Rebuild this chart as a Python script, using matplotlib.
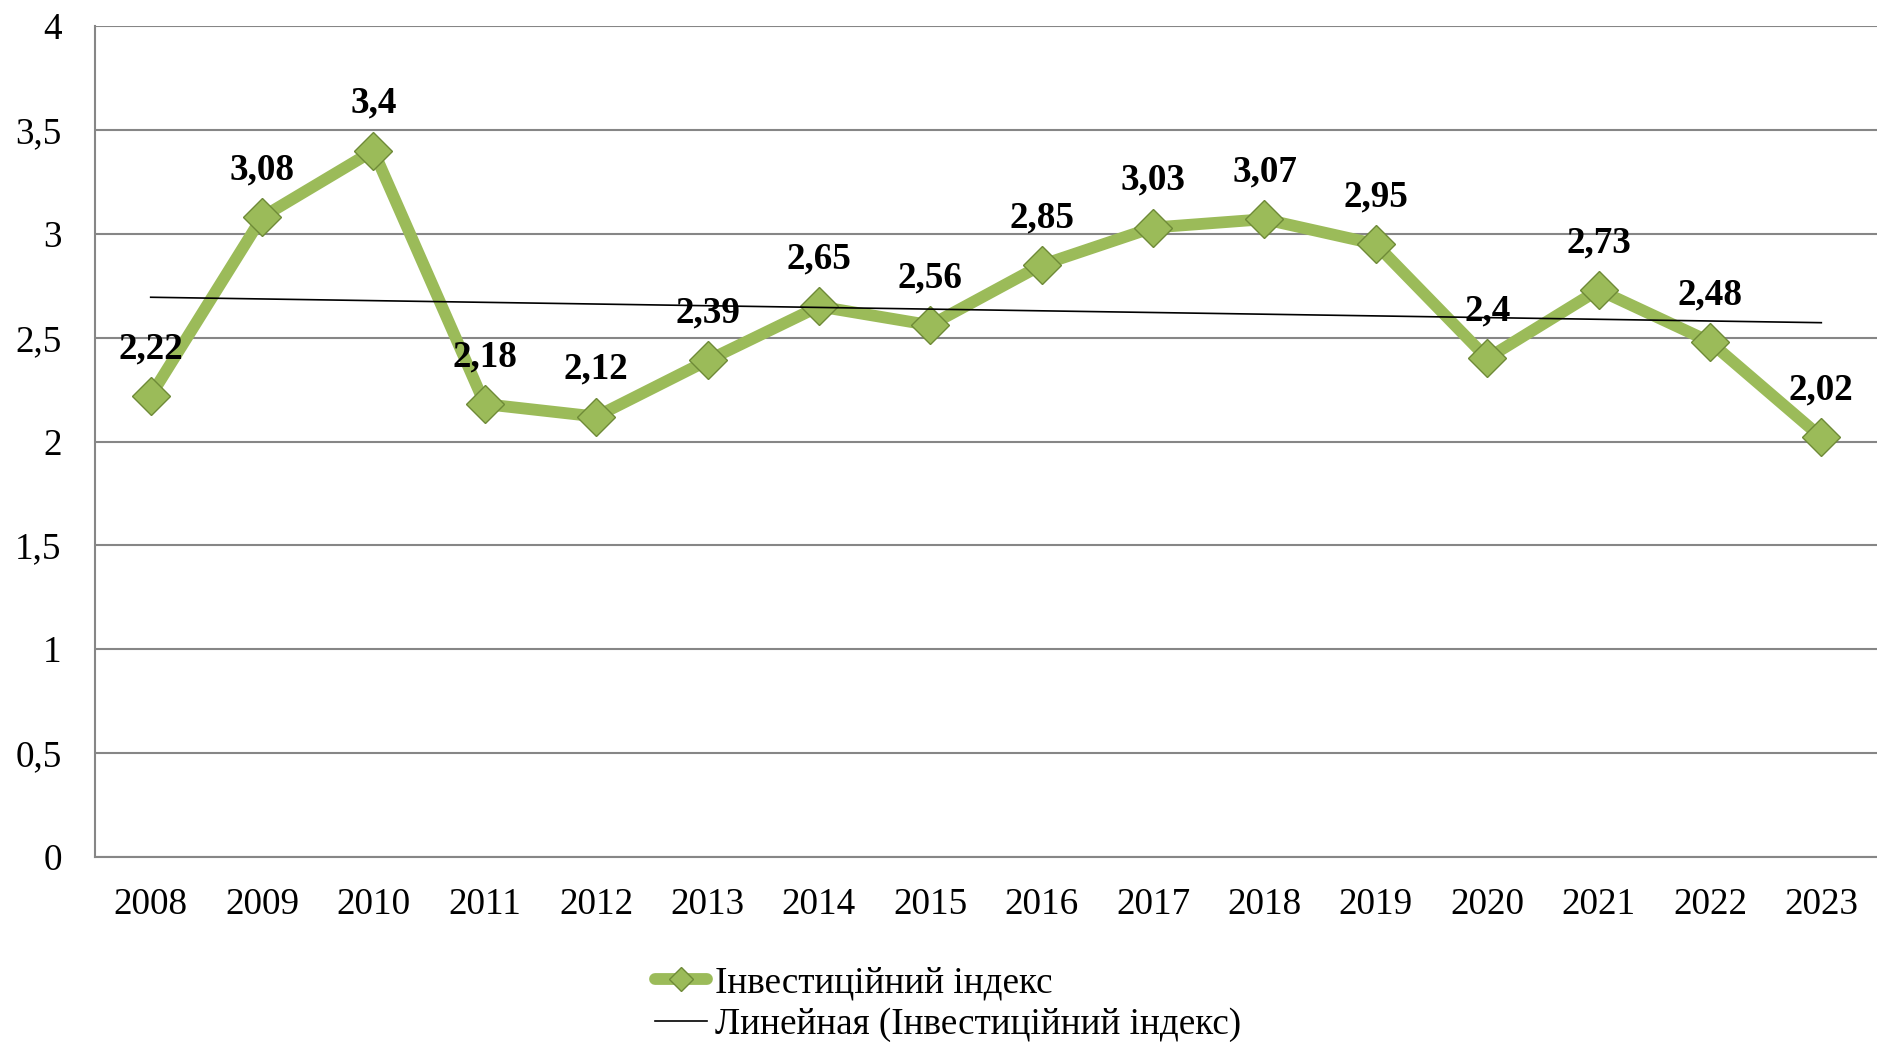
import matplotlib.pyplot as plt
import numpy as np
from matplotlib.ticker import MultipleLocator, FuncFormatter
from matplotlib.lines import Line2D

roky = ['2008', '2009', '2010', '2011', '2012', '2013', '2014', '2015',
        '2016', '2017', '2018', '2019', '2020', '2021', '2022', '2023']
indeks = [2.22, 3.08, 3.4, 2.18, 2.12, 2.39, 2.65, 2.56,
          2.85, 3.03, 3.07, 2.95, 2.4, 2.73, 2.48, 2.02]
nazva = 'Інвестиційний індекс'
nazva_trend = 'Линейная (Інвестиційний індекс)'

plt.rcParams['font.family'] = ['Liberation Serif', 'DejaVu Serif']

zelenyi = '#9bbb59'
krai = '#6e8a37'
sirij = '#868686'
fs = 26.7

fig = plt.figure(figsize=(18.77, 10.42), dpi=100)
ax = fig.add_axes([95/1877, 1-857/1042, 1-95/1877, (857-26)/1042])

x = np.arange(len(roky))
ax.plot(x, indeks, '-', color=zelenyi, lw=8.5, solid_joinstyle='round', zorder=3)
ax.plot(x, indeks, 'D', color=zelenyi, markersize=19.5, markeredgecolor=krai,
        markeredgewidth=1.0, zorder=4)

# linijnyj trend
k, b = np.polyfit(x, indeks, 1)
ax.plot(x, k*x+b, color='black', lw=1.2, zorder=5)

for xi, v in zip(x, indeks):
    ax.annotate(('%g' % v).replace('.', ','), (xi, v), xytext=(0, 34),
                textcoords='offset points', ha='center', va='center',
                fontsize=fs, fontweight='bold', zorder=6)

ax.set_xlim(-0.5, len(roky)-0.5)
ax.set_ylim(0, 4)
ax.yaxis.set_major_locator(MultipleLocator(0.5))
ax.yaxis.set_major_formatter(FuncFormatter(lambda v, p: ('%g' % v).replace('.', ',')))
ax.set_xticks(x)
ax.set_xticklabels(roky)
ax.tick_params(axis='both', length=0, labelsize=fs)
ax.tick_params(axis='y', pad=24)
ax.tick_params(axis='x', pad=22)
ax.grid(axis='y', color=sirij, lw=1.5)
ax.set_axisbelow(True)
for s in ('top', 'right'):
    ax.spines[s].set_visible(False)
for s in ('left', 'bottom'):
    ax.spines[s].set_color(sirij)
    ax.spines[s].set_linewidth(1.5)

h1 = Line2D([], [], color=zelenyi, lw=8.5, solid_capstyle='round', marker='D',
            markersize=12.5, markerfacecolor=zelenyi, markeredgecolor=krai)
h2 = Line2D([], [], color='black', lw=1.2)
fig.legend([h1, h2], [nazva, nazva_trend], loc='center left',
           bbox_to_anchor=(655/1877, 1-1004/1042), frameon=False, fontsize=fs,
           handlelength=1.4, handletextpad=0.22, labelspacing=0.2, borderpad=0,
           borderaxespad=0)

plt.savefig('out.png', dpi=100)
